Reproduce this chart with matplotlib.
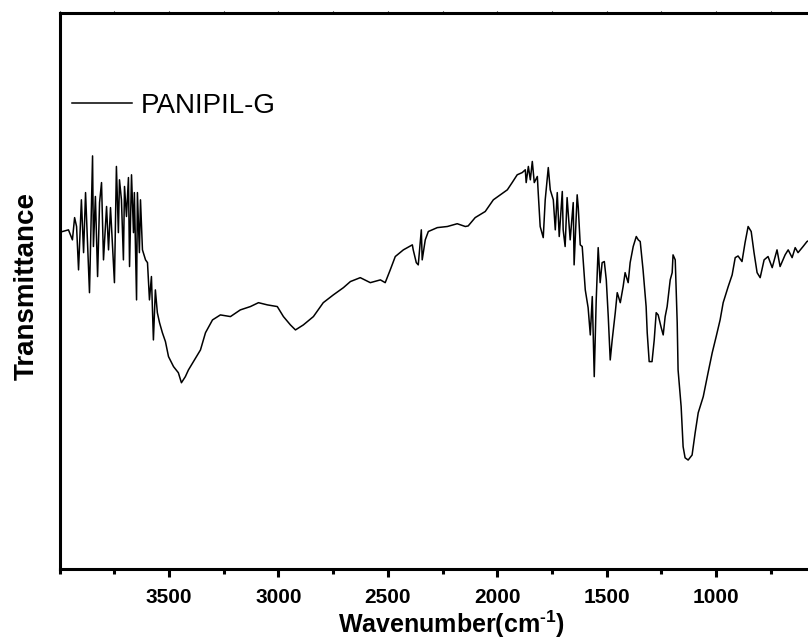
import matplotlib
matplotlib.use('Agg')
import matplotlib.pyplot as plt
from matplotlib.ticker import MultipleLocator

plt.rcParams['font.family'] = ['Liberation Sans', 'DejaVu Sans']
plt.rcParams['mathtext.fontset'] = 'custom'
plt.rcParams['mathtext.rm'] = 'Liberation Sans:bold'
plt.rcParams['mathtext.it'] = 'Liberation Sans:bold'
plt.rcParams['mathtext.bf'] = 'Liberation Sans:bold'

# FTIR spectrum (wavenumber in cm-1, transmittance in a.u.)
wavenumber = [
    3986, 3959, 3941, 3931, 3922, 3913, 3900, 3890, 3881, 3872, 3863, 3849, 3845,
    3836, 3826, 3817, 3808, 3799, 3785, 3776, 3767, 3749, 3740, 3731, 3726, 3717,
    3708, 3703, 3694, 3685, 3680, 3671, 3662, 3658, 3648, 3644, 3635, 3630, 3621,
    3607, 3598, 3589, 3580, 3571, 3562, 3553, 3543, 3530, 3516, 3502, 3479, 3457,
    3443, 3425, 3411, 3356, 3333, 3301, 3265, 3219, 3174, 3128, 3091, 3050, 3005,
    2977, 2945, 2922, 2886, 2840, 2795, 2749, 2703, 2671, 2626, 2580, 2534, 2512,
    2489, 2466, 2429, 2388, 2384, 2370, 2361, 2347, 2343, 2329, 2315, 2274, 2228,
    2183, 2146, 2133, 2101, 2055, 2018, 1986, 1954, 1932, 1909, 1886, 1872, 1868,
    1858, 1849, 1840, 1831, 1817, 1813, 1804, 1790, 1781, 1767, 1758, 1744, 1735,
    1726, 1717, 1703, 1699, 1690, 1681, 1667, 1653, 1649, 1635, 1630, 1621, 1612,
    1598, 1585, 1575, 1566, 1557, 1548, 1539, 1530, 1521, 1511, 1502, 1493, 1484,
    1475, 1461, 1452, 1438, 1425, 1416, 1402, 1393, 1379, 1365, 1356, 1347, 1334,
    1329, 1320, 1315, 1306, 1293, 1283, 1274, 1265, 1251, 1242, 1233, 1224, 1210,
    1201, 1197, 1187, 1178, 1174, 1160, 1151, 1142, 1128, 1110, 1096, 1082, 1059,
    1037, 1018, 1000, 982, 968, 945, 927, 913, 900, 882, 868, 854, 840, 827, 813,
    799, 781, 763, 744, 722, 708, 685, 671, 653, 639, 626, 603, 585, 560,
]
transmittance = [
    60.7, 61.0, 59.2, 63.2, 61.6, 53.8, 66.4, 56.9, 67.7, 58.7, 49.7, 74.3, 58.0,
    67.0, 52.6, 65.9, 69.5, 55.6, 65.2, 57.4, 65.0, 51.5, 72.4, 60.5, 70.0, 66.4,
    55.6, 68.8, 63.4, 70.4, 54.4, 70.9, 60.5, 67.7, 48.4, 67.7, 56.9, 66.4, 57.4,
    55.6, 55.1, 48.4, 52.6, 41.2, 50.2, 46.1, 44.3, 42.5, 40.9, 38.2, 36.4, 35.3,
    33.5, 34.6, 35.8, 39.4, 42.5, 44.8, 45.7, 45.4, 46.6, 47.2, 47.9, 47.5, 47.2,
    45.4, 43.9, 43.0, 43.9, 45.4, 47.9, 49.3, 50.6, 51.7, 52.4, 51.5, 52.0, 51.5,
    53.8, 56.2, 57.4, 58.3, 57.4, 55.1, 54.7, 61.0, 55.6, 59.2, 60.7, 61.4, 61.6,
    62.1, 61.6, 61.7, 63.2, 64.3, 66.4, 67.3, 68.2, 69.5, 70.9, 71.3, 71.8, 69.5,
    72.4, 70.0, 73.3, 69.5, 70.6, 67.7, 61.6, 59.6, 66.4, 72.2, 68.2, 66.4, 61.0,
    67.7, 59.8, 67.9, 61.0, 58.0, 66.8, 59.2, 65.9, 54.7, 67.3, 65.0, 58.3, 58.0,
    50.2, 47.0, 42.1, 49.0, 34.6, 48.4, 57.8, 51.5, 55.1, 55.3, 52.0, 45.4, 37.6,
    41.2, 46.1, 49.7, 47.9, 50.8, 53.3, 51.5, 55.1, 58.0, 59.8, 59.2, 58.9, 53.8,
    51.5, 47.2, 42.5, 37.3, 37.3, 41.2, 46.1, 45.7, 43.4, 42.1, 45.4, 47.2, 52.0,
    53.3, 56.5, 55.6, 44.3, 35.8, 29.2, 22.0, 20.0, 19.6, 20.5, 24.5, 28.1, 31.0,
    35.3, 38.9, 41.8, 44.8, 47.9, 50.8, 52.9, 56.0, 56.3, 55.3, 58.7, 61.6, 60.7,
    56.9, 53.3, 52.4, 55.6, 56.2, 54.2, 57.4, 54.4, 56.5, 57.4, 56.0, 57.8, 56.9,
    58.0, 58.9, 59.4,
]
series_label = 'PANIPIL-G'
major_ticks = [3500, 3000, 2500, 2000, 1500, 1000]

fig = plt.figure(figsize=(8.08, 6.42), dpi=100)
ax = fig.add_axes([59.5 / 808, 73 / 642, 788 / 808, 556 / 642])

ax.plot(wavenumber, transmittance, color='black', linewidth=1.1, label=series_label)

ax.set_xlim(4000, 400)
ax.set_ylim(0, 100)
ax.set_xticks(major_ticks)
ax.xaxis.set_minor_locator(MultipleLocator(250))
ax.set_yticks([])

for side in ['left', 'right', 'top', 'bottom']:
    ax.spines[side].set_linewidth(2.2)

ax.tick_params(axis='x', which='major', direction='out', length=6, width=2.2,
               labelsize=15, pad=8)
ax.tick_params(axis='x', which='minor', direction='out', length=3.5, width=2.2)
ax.tick_params(axis='x', which='both', top=True, bottom=True)
for lab in ax.get_xticklabels():
    lab.set_fontweight('bold')

# top ticks drawn faint and tiny like in the original
for t in ax.xaxis.get_major_ticks() + ax.xaxis.get_minor_ticks():
    t.tick2line.set_markersize(1.5)
    t.tick2line.set_markeredgewidth(0.8)
    t.tick2line.set_color('0.6')

ax.set_xlabel('Wavenumber(cm$^{\\text{-}1}$)', fontsize=18, fontweight='bold')
ax.xaxis.set_label_coords(0.498, -0.072)
ax.set_ylabel('Transmittance', fontsize=20, fontweight='bold')
ax.yaxis.set_label_coords(-0.025, 0.509)

ax.legend(loc='upper left', bbox_to_anchor=(0.016, 0.856), frameon=False,
          fontsize=20, handlelength=2.15, handletextpad=0.32,
          borderpad=0, borderaxespad=0)

fig.savefig('out.png', dpi=100)
